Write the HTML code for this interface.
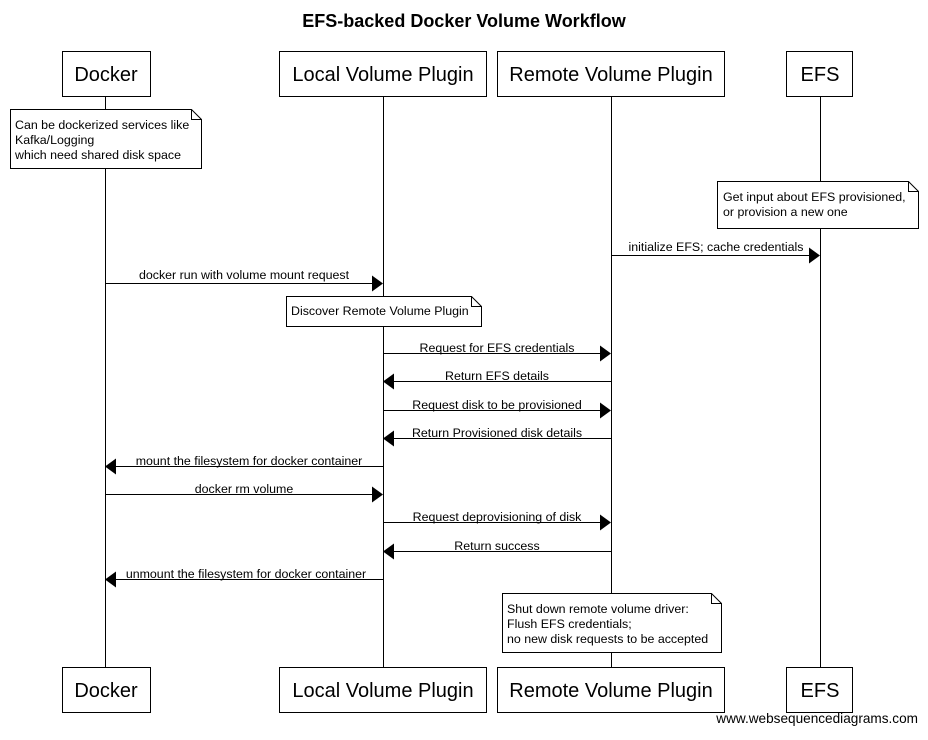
<!DOCTYPE html>
<html><head><style>body{margin:0;background:#fff}</style></head><body>
<svg width="928" height="735" xmlns="http://www.w3.org/2000/svg" font-family="Liberation Sans, Arial, sans-serif">
<rect width="928" height="735" fill="#fff"/>
<text x="464" y="27" text-anchor="middle" font-size="18" font-weight="bold">EFS-backed Docker Volume Workflow</text>
<g stroke="#000" stroke-width="1">
<line x1="105.5" y1="96" x2="105.5" y2="668"/>
<line x1="383.5" y1="96" x2="383.5" y2="668"/>
<line x1="611.5" y1="96" x2="611.5" y2="668"/>
<line x1="820.5" y1="96" x2="820.5" y2="668"/>
</g>
<g fill="#fff" stroke="#000">
<rect x="62.5" y="51.5" width="88" height="45"/>
<rect x="279.5" y="51.5" width="207" height="45"/>
<rect x="497.5" y="51.5" width="227" height="45"/>
<rect x="786.5" y="51.5" width="66" height="45"/>
<rect x="62.5" y="667.5" width="88" height="45"/>
<rect x="279.5" y="667.5" width="207" height="45"/>
<rect x="497.5" y="667.5" width="227" height="45"/>
<rect x="786.5" y="667.5" width="66" height="45"/>
</g>
<g font-size="20" text-anchor="middle">
<text x="106" y="81">Docker</text><text x="383" y="81">Local Volume Plugin</text><text x="611" y="81">Remote Volume Plugin</text><text x="820" y="81">EFS</text>
<text x="106" y="697">Docker</text><text x="383" y="697">Local Volume Plugin</text><text x="611" y="697">Remote Volume Plugin</text><text x="820" y="697">EFS</text>
</g>
<g fill="#fff" stroke="#000">
<path d="M10.5 109.5H191.5L201.5 119.5V168.5H10.5Z"/><path d="M191.5 109.5V119.5H201.5" fill="none"/>
<path d="M717.5 181.5H908.5L918.5 191.5V228.5H717.5Z"/><path d="M908.5 181.5V191.5H918.5" fill="none"/>
<path d="M286.5 296.5H471.5L481.5 306.5V326.5H286.5Z"/><path d="M471.5 296.5V306.5H481.5" fill="none"/>
<path d="M502.5 593.5H711.5L721.5 603.5V652.5H502.5Z"/><path d="M711.5 593.5V603.5H721.5" fill="none"/>
</g>
<g font-size="12.4">
<text x="15" y="129">Can be dockerized services like</text><text x="15" y="144">Kafka/Logging</text><text x="15" y="159">which need shared disk space</text>
<text x="723" y="201">Get input about EFS provisioned,</text><text x="723" y="216">or provision a new one</text>
<text x="291" y="315">Discover Remote Volume Plugin</text>
<text x="507" y="613">Shut down remote volume driver:</text><text x="507" y="628">Flush EFS credentials;</text><text x="507" y="643">no new disk requests to be accepted</text>
<text x="918" y="723" text-anchor="end" font-size="13.6">www.websequencediagrams.com</text>
</g>
<g stroke="#000">
<line x1="611" y1="255.5" x2="810" y2="255.5"/>
<line x1="105" y1="283.5" x2="373" y2="283.5"/>
<line x1="383" y1="353.5" x2="601" y2="353.5"/>
<line x1="393" y1="381.5" x2="611" y2="381.5"/>
<line x1="383" y1="410.5" x2="601" y2="410.5"/>
<line x1="393" y1="438.5" x2="611" y2="438.5"/>
<line x1="115" y1="466.5" x2="383" y2="466.5"/>
<line x1="105" y1="494.5" x2="373" y2="494.5"/>
<line x1="383" y1="522.5" x2="601" y2="522.5"/>
<line x1="393" y1="551.5" x2="611" y2="551.5"/>
<line x1="115" y1="579.5" x2="383" y2="579.5"/>
</g>
<g fill="#000">
<path d="M820 255.5l-11-8v16z"/>
<path d="M383 283.5l-11-8v16z"/>
<path d="M611 353.5l-11-8v16z"/>
<path d="M383 381.5l11-8v16z"/>
<path d="M611 410.5l-11-8v16z"/>
<path d="M383 438.5l11-8v16z"/>
<path d="M105 466.5l11-8v16z"/>
<path d="M383 494.5l-11-8v16z"/>
<path d="M611 522.5l-11-8v16z"/>
<path d="M383 551.5l11-8v16z"/>
<path d="M105 579.5l11-8v16z"/>
</g>
<g font-size="12.4" text-anchor="middle">
<text x="716" y="251">initialize EFS; cache credentials</text>
<text x="244" y="279">docker run with volume mount request</text>
<text x="497" y="352">Request for EFS credentials</text>
<text x="497" y="380">Return EFS details</text>
<text x="497" y="409">Request disk to be provisioned</text>
<text x="497" y="437">Return Provisioned disk details</text>
<text x="249" y="465">mount the filesystem for docker container</text>
<text x="244" y="493">docker rm volume</text>
<text x="497" y="521">Request deprovisioning of disk</text>
<text x="497" y="550">Return success</text>
<text x="246" y="578">unmount the filesystem for docker container</text>
</g>
</svg>
</body></html>
